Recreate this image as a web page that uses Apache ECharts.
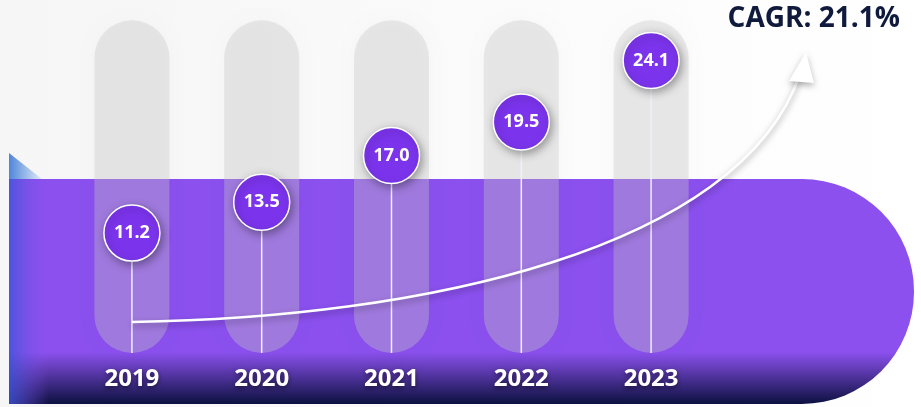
<!DOCTYPE html>
<html><head><meta charset="utf-8">
<script src="https://cdn.jsdelivr.net/npm/echarts@6/dist/echarts.min.js"></script>
<style>html,body{margin:0;padding:0;background:#fff}#c{width:921px;height:407px}</style>
</head><body><div id="c"></div>
<script>
const years = ['2019', '2020', '2021', '2022', '2023'];
const values = [11.2, 13.5, 17.0, 19.5, 24.1];
const cagrLabel = 'CAGR: 21.1%';

const PILL_TOP = 27.1, PILL_BOTTOM = 2.24, PILL_W = 75;
const chart = echarts.init(document.getElementById('c'), null, {renderer: 'canvas'});
const FONT = '"Open Sans", "Noto Sans", sans-serif';

const option = {
  animation: false,
  grid: {left: 67, right: 205, top: 8.3, bottom: 24.1},
  xAxis: {
    type: 'category', data: years,
    axisLine: {show: false}, axisTick: {show: false}, splitLine: {show: false},
    axisLabel: {
      margin: -16, color: '#ffffff', fontSize: 24, fontWeight: 'bold', fontFamily: FONT,
      textShadowColor: 'rgba(0,0,0,0.55)', textShadowBlur: 5, textShadowOffsetY: 2
    }
  },
  yAxis: {type: 'value', min: 0, max: 28, show: false},
  graphic: {elements: [
    {type: 'rect', z: -5, shape: {x: 0, y: 0, width: 921, height: 407},
      style: {fill: new echarts.graphic.LinearGradient(0, 0, 1, 0, [{offset: 0, color: '#f6f6f6'}, {offset: 1, color: '#ffffff'}])}},
    {type: 'polygon', z: -4, shape: {points: [[9, 153], [9, 179], [42, 179]]},
      style: {fill: new echarts.graphic.LinearGradient(0, 0, 1, 0, [{offset: 0, color: '#4f86da'}, {offset: 1, color: '#e3ebf8'}])}},
    {type: 'rect', z: -3, shape: {x: 9, y: 179, width: 905, height: 225, r: [0, 112, 112, 0]},
      style: {fill: new echarts.graphic.LinearGradient(0, 0, 0, 1, [
        {offset: 0, color: '#8b50ee'}, {offset: 0.77, color: '#8b50ee'}, {offset: 1, color: '#0c1140'}])}},
    {type: 'rect', z: -2, shape: {x: 9, y: 179, width: 40, height: 225},
      style: {fill: new echarts.graphic.LinearGradient(0, 0, 1, 0, [
        {offset: 0, color: 'rgba(60,85,215,0.8)'}, {offset: 1, color: 'rgba(139,80,238,0)'}])}},
    {type: 'bezierCurve', z: 3, shape: {x1: 132, y1: 322, x2: 800, y2: 74, cpx1: 420, cpy1: 318, cpx2: 740, cpy2: 250},
      style: {stroke: '#ffffff', lineWidth: 2.5, fill: null, shadowBlur: 6, shadowColor: 'rgba(0,0,0,0.35)', shadowOffsetY: 3}},
    {type: 'polygon', z: 3, shape: {points: [[806, 52], [789, 81], [814, 83]]},
      style: {fill: '#ffffff', shadowBlur: 6, shadowColor: 'rgba(0,0,0,0.3)', shadowOffsetY: 3}},
    {type: 'text', z: 6, x: 900, y: 19,
      style: {text: cagrLabel, font: 'bold 28px ' + FONT, fill: '#0f1a3c', align: 'right', verticalAlign: 'middle'}}
  ]},
  series: [
    {
      type: 'custom', z: 1,
      data: years.map((y, i) => [i, values[i]]),
      renderItem: (params, api) => {
        const t = api.coord([api.value(0), PILL_TOP]);
        const b = api.coord([api.value(0), PILL_BOTTOM]);
        return {type: 'rect', shape: {x: t[0] - PILL_W / 2, y: t[1], width: PILL_W, height: b[1] - t[1], r: PILL_W / 2},
          style: {fill: 'rgba(200,200,200,0.36)', shadowBlur: 12, shadowColor: 'rgba(0,0,0,0.06)'}};
      }
    },
    {
      type: 'custom', z: 2,
      data: years.map((y, i) => [i, values[i]]),
      renderItem: (params, api) => {
        const t = api.coord([api.value(0), api.value(1)]);
        const b = api.coord([api.value(0), PILL_BOTTOM]);
        return {type: 'line', shape: {x1: t[0], y1: t[1], x2: b[0], y2: b[1]},
          style: {stroke: '#f3eefc', lineWidth: 1.5}};
      }
    },
    {
      type: 'scatter', z: 5,
      data: values,
      symbolSize: 56,
      itemStyle: {color: '#7b34ec', borderColor: '#ffffff', borderWidth: 1.5, opacity: 1,
        shadowBlur: 8, shadowColor: 'rgba(0,0,0,0.35)', shadowOffsetX: 2, shadowOffsetY: 3},
      label: {show: true, position: 'inside', formatter: p => p.value.toFixed(1),
        color: '#ffffff', fontSize: 18, fontWeight: 'bold', fontFamily: FONT},
      emphasis: {disabled: true}
    }
  ]
};
chart.setOption(option);
</script></body></html>
